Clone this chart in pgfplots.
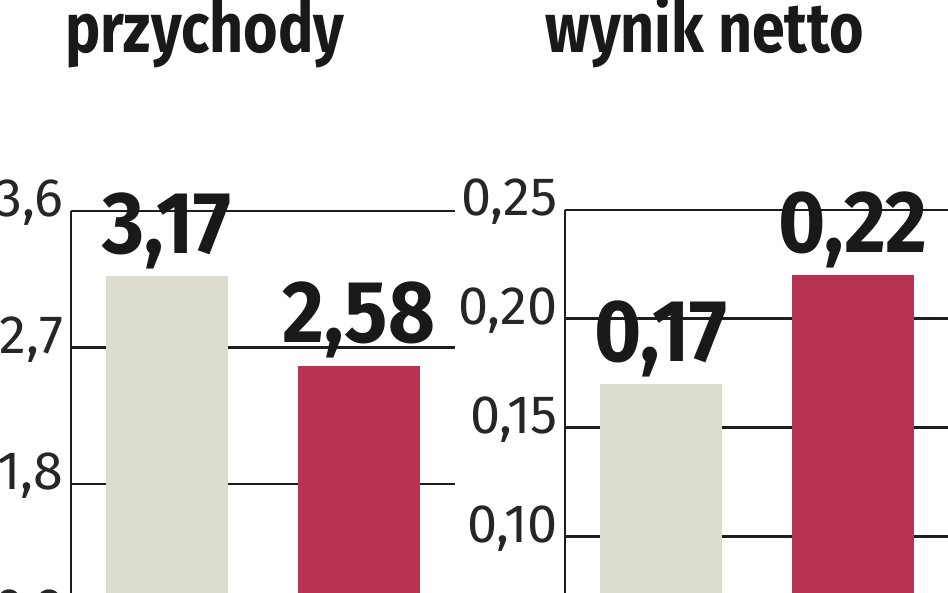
\documentclass[border=0pt]{standalone}
\usepackage{fontspec}
\setmainfont{Fira Sans}
\newfontfamily\cond[FakeStretch=0.92]{Fira Sans}
\newfontfamily\condtitle[FakeStretch=0.845]{Fira Sans}
\usepackage{pgfplots}
\pgfplotsset{compat=1.18}

\definecolor{barGrey}{RGB}{220,220,208}
\definecolor{barRed}{RGB}{184,50,84}
\definecolor{lineCol}{RGB}{30,30,30}

\pgfplotsset{
  panel/.style={
    scale only axis,
    width=192pt,
    anchor=north west,
    axis y line*=left,
    axis x line=none,
    axis line style={-, lineCol, line width=1.3pt},
    ymajorgrids,
    grid style={lineCol, line width=1.3pt},
    major tick length=0pt,
    xmin=-0.5, xmax=1.5,
    ymin=0,
    clip=false,
    ybar, bar width=0.635, bar shift=0pt,
    yticklabel style={font=\fontsize{27}{27}\selectfont, text=black!85, inner sep=0pt, xshift=-3.5pt, yshift=4pt},
    /pgf/number format/.cd, use comma, fixed, fixed zerofill, precision=2, assume math mode=true,
    /pgfplots/.cd,
    nodes near coords,
    every node near coord/.append style={anchor=base, inner sep=0pt, yshift=11.5pt,
      font=\cond\bfseries\fontsize{44}{44}\selectfont, text=black!90},
  },
}

\begin{document}
\begin{tikzpicture}
\path[use as bounding box, clip] (0,0) rectangle (474pt,-296.5pt);

\node[anchor=base, font=\condtitle\bfseries\fontsize{35}{35}\selectfont, text=black!90] at (102.5pt,-26.5pt) {przychody};
\node[anchor=base, font=\condtitle\bfseries\fontsize{35}{35}\selectfont, text=black!90] at (352.5pt,-26.5pt) {wynik netto};

% przychody
\begin{axis}[panel, at={(35.5pt,-105.5pt)}, height=273pt, ymax=3.6,
  ytick={0.9,1.8,2.7,3.6}, yticklabels={{0,9},{1,8},{2,7},{3,6}}]
\addplot[fill=barGrey, draw=none] coordinates {(0,3.17)};
\addplot[fill=barRed, draw=none] coordinates {(1,2.58)};
\end{axis}

% wynik netto
\begin{axis}[panel, at={(282.5pt,-105pt)}, height=272pt, ymax=0.25,
  ytick={0.10,0.15,0.20,0.25}, yticklabels={{0,10},{0,15},{0,20},{0,25}}]
\addplot[fill=barGrey, draw=none] coordinates {(0,0.17)};
\addplot[fill=barRed, draw=none] coordinates {(1,0.22)};
\end{axis}
\end{tikzpicture}
\end{document}
